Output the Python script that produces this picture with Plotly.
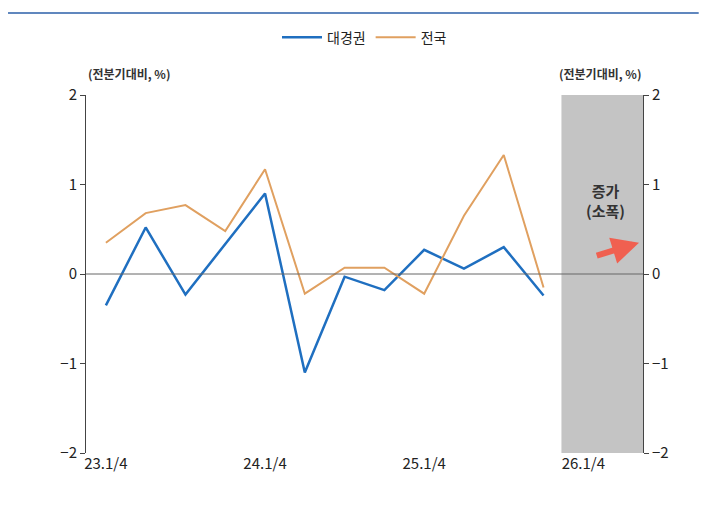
import plotly.graph_objects as go

quarters = ["23.1", "23.2", "23.3", "23.4", "24.1", "24.2", "24.3", "24.4",
            "25.1", "25.2", "25.3", "25.4"]
daegyeong = [-0.35, 0.52, -0.23, 0.33, 0.90, -1.10, -0.03, -0.18, 0.27, 0.06, 0.30, -0.24]
national = [0.35, 0.68, 0.77, 0.48, 1.17, -0.22, 0.07, 0.07, -0.22, 0.65, 1.33, -0.15]
tick_pos = [0, 4, 8, 12]
tick_text = ["23.1/4", "24.1/4", "25.1/4", "26.1/4"]

x = list(range(len(quarters)))
font = "Noto Sans CJK KR"

fig = go.Figure()
fig.add_shape(type="rect", x0=11.45, x1=13.5, y0=-2, y1=2, xref="x", yref="y",
              fillcolor="#c4c4c4", line_width=0, layer="below")
fig.add_trace(go.Scatter(x=x, y=daegyeong, name="대경권", mode="lines",
                         line=dict(color="#1f6fc0", width=2.5)))
fig.add_trace(go.Scatter(x=x, y=national, name="전국", mode="lines",
                         line=dict(color="#e0a060", width=2)))
fig.add_trace(go.Scatter(x=[None], y=[None], yaxis="y2", showlegend=False))

fig.add_annotation(x=12.55, y=0.82, text="<b>증가<br>(소폭)</b>", showarrow=False,
                   font=dict(size=15, color="#333"))
fig.add_annotation(x=13.4, y=0.35, ax=12.3, ay=0.2, axref="x", ayref="y",
                   text="", showarrow=True, arrowhead=2, arrowsize=0.9,
                   arrowwidth=6, arrowcolor="#f06050")
fig.add_annotation(x=0.0, y=1.03, xref="paper", yref="paper", xanchor="left",
                   yanchor="bottom", text="<b>(전분기대비, %)</b>", showarrow=False,
                   font=dict(size=12, color="#333"))
fig.add_annotation(x=1.0, y=1.03, xref="paper", yref="paper", xanchor="right",
                   yanchor="bottom", text="<b>(전분기대비, %)</b>", showarrow=False,
                   font=dict(size=12, color="#333"))
fig.add_shape(type="line", x0=-0.14, x1=1.1, y0=1.229, y1=1.229, xref="paper",
              yref="paper", line=dict(color="#2b5fa8", width=1.5))

yax = dict(range=[-2, 2], tickvals=[-2, -1, 0, 1, 2],
           ticktext=["−2", "−1", "0", "1", "2"], showgrid=False, zeroline=False,
           showline=True, linecolor="#444", ticks="outside", ticklen=5,
           tickfont=dict(size=15, color="#222"))
fig.update_layout(
    width=710, height=521, plot_bgcolor="white", paper_bgcolor="white",
    margin=dict(l=78, r=75, t=87, b=76, autoexpand=False),
    font=dict(family=font, color="#222"),
    xaxis=dict(range=[-0.5, 13.5], tickvals=tick_pos, ticktext=tick_text,
               showgrid=False, zeroline=False, showline=False, ticks="",
               tickfont=dict(size=15, color="#222")),
    yaxis=yax,
    yaxis2=dict(yax, overlaying="y", side="right"),
    legend=dict(orientation="h", x=0.5, xanchor="center", y=1.16, yanchor="middle",
                font=dict(size=14), itemwidth=40, bgcolor="rgba(0,0,0,0)"),
    showlegend=True,
)
fig.add_hline(y=0, line=dict(color="#666", width=1))
fig.write_html("out.html")
